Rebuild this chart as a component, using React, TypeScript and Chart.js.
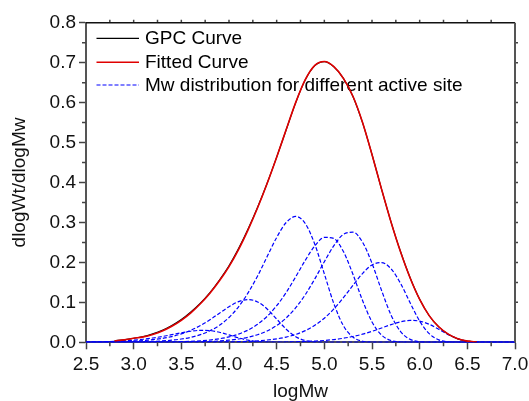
import React, { useEffect, useRef } from 'react';
import { Chart, registerables } from 'chart.js';

Chart.register(...registerables);

// ---- data ----
const logMw = [2.5, 2.6, 2.7, 2.8, 2.9, 3.0, 3.1, 3.2, 3.3, 3.4, 3.5, 3.6, 3.7, 3.8, 3.9, 4.0, 4.1, 4.2, 4.3, 4.4, 4.5, 4.6, 4.7, 4.8, 4.9, 5.0, 5.1, 5.2, 5.3, 5.4, 5.5, 5.6, 5.7, 5.8, 5.9, 6.0, 6.1, 6.2, 6.3, 6.4, 6.5, 6.6, 6.7, 6.8, 6.9, 7.0];

const gpcCurve = [null, null, null, 0.004, 0.0062, 0.0102, 0.014, 0.021, 0.030, 0.042, 0.057, 0.076, 0.098, 0.1245, 0.156, 0.1915, 0.2345, 0.2835, 0.338, 0.398, 0.4635, 0.532, 0.600, 0.657, 0.6925, 0.7025, 0.6895, 0.6605, 0.6155, 0.5505, 0.470, 0.3835, 0.301, 0.2265, 0.1615, 0.1075, 0.0665, 0.0385, 0.020, 0.0087, 0.0028, 0.0006, null, null, null, null];

const fittedCurve = [null, null, null, 0.004, 0.006, 0.010, 0.0135, 0.0198, 0.0283, 0.0401, 0.0551, 0.0739, 0.0966, 0.123, 0.1539, 0.1896, 0.2321, 0.2816, 0.3368, 0.3977, 0.4634, 0.5324, 0.6006, 0.6574, 0.693, 0.703, 0.690, 0.6608, 0.6158, 0.551, 0.4701, 0.3835, 0.3006, 0.226, 0.1611, 0.1074, 0.0668, 0.0388, 0.0204, 0.0089, 0.0029, 0.0006, null, null, null, null];

const site1 = [0.0007, 0.0011, 0.0016, 0.0024, 0.0036, 0.0053, 0.0076, 0.0107, 0.0146, 0.019, 0.0237, 0.0277, 0.0299, 0.0292, 0.0252, 0.0185, 0.0112, 0.0053, 0.0018, 0.0004, 0.0001, 0, 0, 0, 0, 0, 0, 0, 0, 0, 0, 0, 0, 0, 0, 0, 0, 0, 0, 0, 0, 0, 0, 0, 0, 0];
const site2 = [0.0003, 0.0005, 0.0007, 0.0012, 0.0018, 0.0028, 0.0043, 0.0065, 0.0097, 0.0144, 0.0211, 0.0302, 0.042, 0.0564, 0.0729, 0.0891, 0.1019, 0.107, 0.101, 0.0834, 0.0582, 0.0328, 0.0141, 0.0044, 0.0009, 0.0001, 0, 0, 0, 0, 0, 0, 0, 0, 0, 0, 0, 0, 0, 0, 0, 0, 0, 0, 0, 0];
const site3 = [0, 0.0001, 0.0002, 0.0004, 0.0006, 0.0009, 0.0014, 0.0022, 0.0034, 0.0053, 0.0082, 0.0125, 0.0191, 0.0287, 0.0425, 0.0621, 0.0888, 0.1238, 0.166, 0.2145, 0.2624, 0.2999, 0.315, 0.2974, 0.2454, 0.1714, 0.0967, 0.0416, 0.0129, 0.0026, 0.0003, 0, 0, 0, 0, 0, 0, 0, 0, 0, 0, 0, 0, 0, 0, 0];
const site4 = [0, 0, 0, 0.0001, 0.0001, 0.0002, 0.0003, 0.0004, 0.0006, 0.001, 0.0015, 0.0024, 0.0037, 0.0058, 0.0089, 0.0136, 0.0205, 0.0306, 0.0451, 0.065, 0.0915, 0.1248, 0.164, 0.2051, 0.2413, 0.2628, 0.2598, 0.2272, 0.1703, 0.1052, 0.0509, 0.0181, 0.0044, 0.0007, 0.0001, 0, 0, 0, 0, 0, 0, 0, 0, 0, 0, 0];
const site5 = [0, 0, 0, 0, 0, 0.0001, 0.0001, 0.0002, 0.0003, 0.0004, 0.0006, 0.0009, 0.0014, 0.0022, 0.0034, 0.0053, 0.0082, 0.0125, 0.019, 0.0284, 0.042, 0.061, 0.0865, 0.1193, 0.1587, 0.2017, 0.242, 0.2703, 0.2756, 0.2508, 0.1977, 0.13, 0.0681, 0.0268, 0.0073, 0.0013, 0.0001, 0, 0, 0, 0, 0, 0, 0, 0, 0];
const site6 = [0, 0, 0, 0, 0, 0, 0, 0, 0, 0, 0.0001, 0.0002, 0.0003, 0.0004, 0.0006, 0.001, 0.0015, 0.0024, 0.0037, 0.0057, 0.0087, 0.0131, 0.0197, 0.0292, 0.0425, 0.0604, 0.0835, 0.1116, 0.1425, 0.1721, 0.1937, 0.1996, 0.1839, 0.1472, 0.0988, 0.0531, 0.0216, 0.0061, 0.0011, 0.0001, 0, 0, 0, 0, 0, 0];
const site7 = [0, 0, 0, 0, 0, 0, 0, 0, 0, 0, 0, 0, 0, 0, 0, 0, 0, 0, 0.0002, 0.0003, 0.0005, 0.0008, 0.0013, 0.002, 0.0031, 0.0046, 0.0069, 0.0101, 0.0145, 0.0203, 0.0275, 0.0358, 0.0442, 0.0513, 0.0549, 0.053, 0.0451, 0.0327, 0.0193, 0.0088, 0.0029, 0.0006, 0.0001, 0, 0, 0];

const siteSeries = [site1, site2, site3, site4, site5, site6, site7];
const seriesNames = ['GPC Curve', 'Fitted Curve', 'Mw distribution for different active site'];

const xMin = 2.5;
const xMax = 7.0;
const yMin = 0;
const yMax = 0.8;
const xMinorTicks = [2.75, 3.25, 3.75, 4.25, 4.75, 5.25, 5.75, 6.25, 6.75];
const yMinorTicks = [0.05, 0.15, 0.25, 0.35, 0.45, 0.55, 0.65, 0.75];
const xTopTicks = [2.75, 3.0, 3.25, 3.5, 3.75, 4.0, 4.25, 4.5, 4.75, 5.0, 5.25, 5.5, 5.75, 6.0, 6.25, 6.5, 6.75];
const yRightTicks = [0.05, 0.1, 0.15, 0.2, 0.25, 0.3, 0.35, 0.4, 0.45, 0.5, 0.55, 0.6, 0.65, 0.7, 0.75];

const FONT = '"Liberation Sans", Arial, sans-serif';
const W = 529;
const H = 401;

const toPoints = (ys: (number | null)[]) => logMw.map((x, i) => ({ x, y: ys[i] }));

const decorPlugin = {
  id: 'decor',
  beforeDatasetsDraw(chart: any) {
    const { ctx, chartArea: a } = chart;
    const ds = chart.data.datasets;
    const rows = [15.6, 39.6, 62.3];
    ctx.save();
    for (let i = 0; i < 3; i++) {
      const d = ds[i];
      const yy = a.top + rows[i];
      ctx.beginPath();
      ctx.strokeStyle = d.borderColor;
      ctx.lineWidth = d.borderWidth;
      ctx.setLineDash(d.borderDash || []);
      ctx.moveTo(a.left + 10.5, yy);
      ctx.lineTo(a.left + 53, yy);
      ctx.stroke();
      ctx.setLineDash([]);
      ctx.fillStyle = '#000';
      ctx.font = `19px ${FONT}`;
      ctx.textAlign = 'left';
      ctx.textBaseline = 'middle';
      ctx.fillText(d.label, a.left + 59, yy + 0.5);
    }
    ctx.restore();
  },
  afterDraw(chart: any) {
    const { ctx, chartArea: a, scales } = chart;
    const x = scales.x;
    const y = scales.y;
    ctx.save();
    ctx.strokeStyle = '#444';
    ctx.lineWidth = 1.5;
    ctx.beginPath();
    xMinorTicks.forEach((v) => {
      const px = x.getPixelForValue(v);
      ctx.moveTo(px, a.bottom);
      ctx.lineTo(px, a.bottom + 4);
    });
    yMinorTicks.forEach((v) => {
      const py = y.getPixelForValue(v);
      ctx.moveTo(a.left - 4, py);
      ctx.lineTo(a.left, py);
    });
    xTopTicks.forEach((v) => {
      const px = x.getPixelForValue(v);
      ctx.moveTo(px, a.top - 3);
      ctx.lineTo(px, a.top);
    });
    yRightTicks.forEach((v) => {
      const py = y.getPixelForValue(v);
      ctx.moveTo(a.right, py);
      ctx.lineTo(a.right + 3, py);
    });
    ctx.stroke();
    // top and right frame
    ctx.beginPath();
    ctx.strokeStyle = '#111';
    ctx.lineWidth = 1.5;
    ctx.moveTo(a.left, a.top);
    ctx.lineTo(a.right, a.top);
    ctx.stroke();
    ctx.beginPath();
    ctx.strokeStyle = '#555';
    ctx.lineWidth = 2;
    ctx.moveTo(a.right, a.top);
    ctx.lineTo(a.right, a.bottom);
    ctx.stroke();
    ctx.restore();
  },
};

export default function App() {
  const ref = useRef<HTMLCanvasElement | null>(null);

  useEffect(() => {
    if (!ref.current) return;
    const datasets: any[] = [
      {
        label: seriesNames[0],
        data: toPoints(gpcCurve),
        borderColor: '#000000',
        borderWidth: 1.2,
        pointRadius: 0,
        cubicInterpolationMode: 'monotone',
        spanGaps: false,
        order: 1,
      },
      {
        label: seriesNames[1],
        data: toPoints(fittedCurve),
        borderColor: '#e00000',
        borderWidth: 1.6,
        pointRadius: 0,
        cubicInterpolationMode: 'monotone',
        spanGaps: false,
        order: 0,
      },
    ];
    siteSeries.forEach((s, i) => {
      datasets.push({
        label: i === 0 ? seriesNames[2] : `site ${i + 1}`,
        data: toPoints(s),
        borderColor: '#0000ff',
        borderWidth: 1.2,
        borderDash: [4, 2],
        borderDashOffset: i,
        pointRadius: 0,
        cubicInterpolationMode: 'monotone',
        order: 2,
      });
    });

    const chart = new Chart(ref.current, {
      type: 'line',
      data: { datasets },
      options: {
        animation: false,
        responsive: false,
        devicePixelRatio: 1,
        layout: { padding: { left: 0, top: 22.7, right: 14, bottom: 0 } },
        plugins: {
          legend: { display: false },
          tooltip: { enabled: false },
        },
        scales: {
          x: {
            type: 'linear',
            min: xMin,
            max: xMax,
            afterFit: (s: any) => {
              s.height = 58.7;
              s.paddingLeft = 0;
              s.paddingRight = 0;
            },
            ticks: {
              stepSize: 0.5,
              autoSkip: false,
              maxRotation: 0,
              padding: 4,
              color: '#111',
              font: { family: FONT, size: 19 },
              callback: (v: any) => Number(v).toFixed(1),
            },
            grid: {
              display: true,
              drawOnChartArea: false,
              drawTicks: true,
              tickLength: 7,
              tickColor: '#444',
              tickWidth: 1.5,
            },
            border: { display: true, color: '#555', width: 2 },
            title: {
              display: true,
              text: 'logMw',
              color: '#111',
              font: { family: FONT, size: 19, lineHeight: 1 },
              padding: { top: 0, bottom: 0 },
            },
          },
          y: {
            type: 'linear',
            min: yMin,
            max: yMax,
            afterFit: (s: any) => {
              s.width = 86;
              s.paddingTop = 0;
              s.paddingBottom = 0;
            },
            ticks: {
              stepSize: 0.1,
              padding: 3,
              color: '#111',
              font: { family: FONT, size: 19 },
              callback: (v: any) => Number(v).toFixed(1),
            },
            grid: {
              display: true,
              drawOnChartArea: false,
              drawTicks: true,
              tickLength: 7,
              tickColor: '#444',
              tickWidth: 1.5,
            },
            border: { display: true, color: '#555', width: 2 },
            title: {
              display: true,
              text: 'dlogWt/dlogMw',
              color: '#111',
              font: { family: FONT, size: 19, lineHeight: 1.2 },
              padding: { top: 8, bottom: 0 },
            },
          },
        },
      },
      plugins: [decorPlugin],
    } as any);
    return () => chart.destroy();
  }, []);

  return (
    <div style={{ position: 'fixed', left: 0, top: 0, width: W, height: H, background: '#fff' }}>
      <canvas ref={ref} width={W} height={H} style={{ width: W, height: H, display: 'block' }} />
    </div>
  );
}
